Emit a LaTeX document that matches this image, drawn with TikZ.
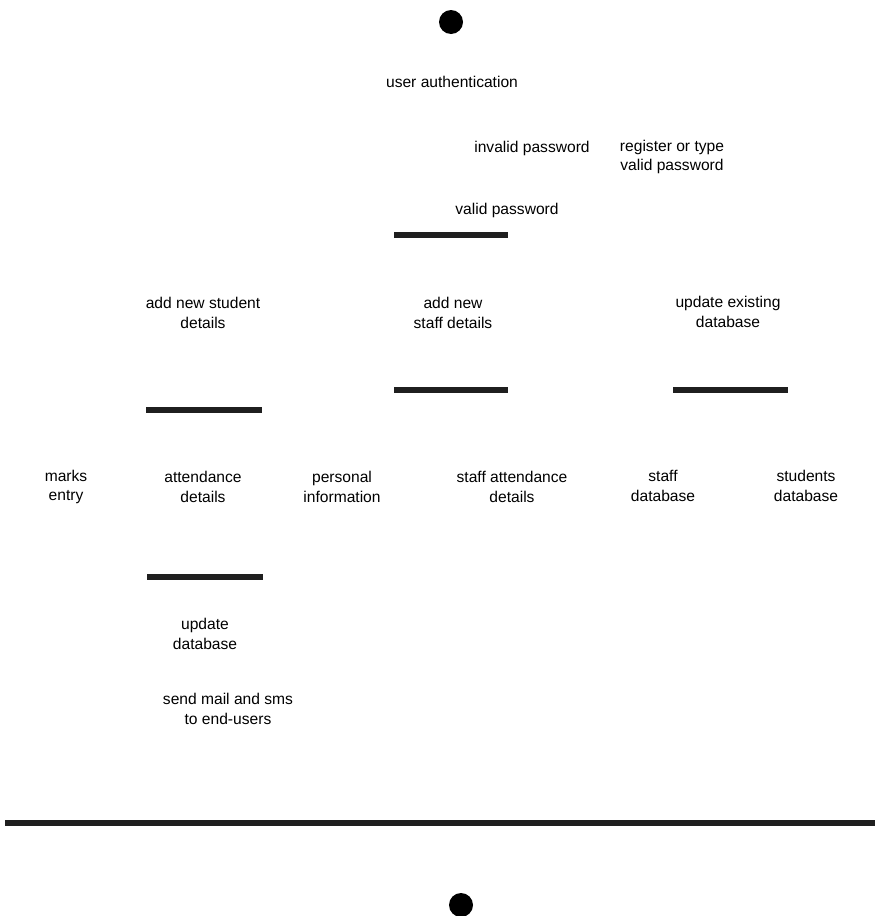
\documentclass[tikz,border=0pt]{standalone}
\usepackage{fontspec}
\setmainfont{Liberation Sans}
\usetikzlibrary{positioning}
\tikzset{
  act/.style={align=center, inner sep=0pt, font=\fontsize{15.6}{19.5}\selectfont},
  bar/.style={fill=black!88, draw=none, inner sep=0pt, minimum height=5.5pt, minimum width=#1},
  bar/.default=116pt,
  dot/.style={circle, fill=black, draw=none, inner sep=0pt, minimum size=24pt}
}

\begin{document}
\begin{tikzpicture}[x=1pt, y=-1pt]
    \useasboundingbox (0,0) rectangle (875,916);
    \node[dot] (start) at (451,22) {};
    \node[act] (auth) at (452,82) {user authentication};
    \node[act] (invalid) at (532,148) {invalid password};
    \node[act] (register) at (672,157) {register or type\\valid password};
    \node[act] (valid) at (507,210) {valid password};
    \node[bar=114pt] (forkA) at (451,235) {};
    % three branches
    \node[act] (newstudent) at (203,313) {add new student\\details};
    \node[act] (newstaff) at (453,313) {add new\\staff details};
    \node[act] (updexist) at (728,312) {update existing\\database};
    \node[bar] (forkS) at (204,410) {};
    \node[bar=114pt] (forkT) at (451,390) {};
    \node[bar=115pt] (forkU) at (730,390) {};
    % second row
    \node[act] (marks) at (66,487) {marks\\entry};
    \node[act] (attend) at (203,487) {attendance\\details};
    \node[act] (personal) at (342,487) {personal\\information};
    \node[act] (staffatt) at (512,487) {staff attendance\\details};
    \node[act] (staffdb) at (663,486) {staff\\database};
    \node[act] (studdb) at (806,486) {students\\database};
    \node[bar] (joinS) at (205,577) {};
    \node[act] (upddb) at (205,634) {update\\database};
    \node[act] (mail) at (228,709) {send mail and sms\\to end-users};
    % final join
    \node[bar=870pt] (joinAll) at (440,823) {};
    \node[dot] (stop) at (461,905) {};
\end{tikzpicture}
\end{document}
